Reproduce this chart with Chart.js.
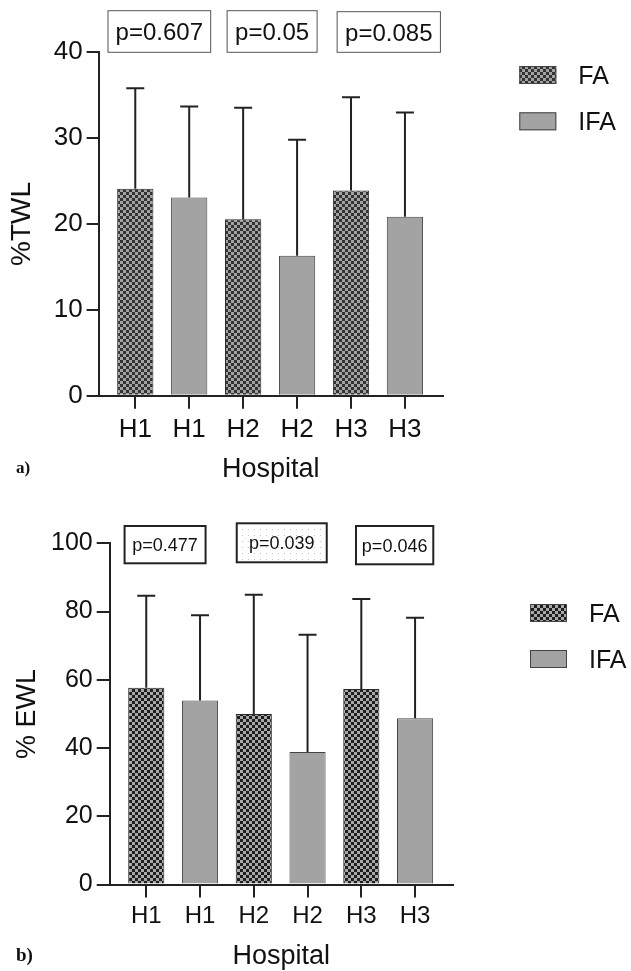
<!DOCTYPE html>
<html>
<head>
<meta charset="utf-8">
<script src="https://cdn.jsdelivr.net/npm/chart.js@4"></script>
<style>
  body { margin: 0; background: #fff; }
  #wrap { position: relative; width: 631px; height: 971px; background: #fff; }
  canvas { position: absolute; left: 0; }
</style>
</head>
<body>
<div id="wrap">
  <canvas id="twlChart" width="631" height="485" style="top:0"></canvas>
  <canvas id="ewlChart" width="631" height="486" style="top:485px"></canvas>
</div>
<script>
// Data
const barLabels = ['H1', 'H1', 'H2', 'H2', 'H3', 'H3'];
const barGroup = ['FA', 'IFA', 'FA', 'IFA', 'FA', 'IFA'];
const groups = ['FA', 'IFA'];

const twlMean = [24.1, 23.1, 20.55, 16.3, 23.9, 20.85];
const twlSD = [11.7, 10.6, 13.0, 13.5, 10.85, 12.15];
const twlTicks = [0, 10, 20, 30, 40];
const twlP = ['p=0.607', 'p=0.05', 'p=0.085'];

const ewlMean = [57.7, 53.9, 50.0, 38.8, 57.3, 48.7];
const ewlSD = [26.9, 25.0, 34.9, 34.4, 26.4, 29.5];
const ewlTicks = [0, 20, 40, 60, 80, 100];
const ewlP = ['p=0.477', 'p=0.039', 'p=0.046'];

const FONT = "'Liberation Sans', Arial, Helvetica, sans-serif";

// checkerboard pattern for FA bars
function checker(dark, light) {
    const c = document.createElement('canvas');
    c.width = 6; c.height = 6;
    const g = c.getContext('2d');
    g.fillStyle = light;
    g.fillRect(0, 0, 6, 6);
    g.fillStyle = dark;
    g.fillRect(0, 0, 3, 3);
    g.fillRect(3, 3, 3, 3);
    return g.createPattern(c, 'repeat');
}

function dots() {
    const c = document.createElement('canvas');
    c.width = 6; c.height = 6;
    const g = c.getContext('2d');
    g.fillStyle = '#fff';
    g.fillRect(0, 0, 6, 6);
    g.fillStyle = '#c8c8c8';
    g.fillRect(2, 2, 1, 1);
    return g.createPattern(c, 'repeat');
}

// error bars (upper only)
const errorBars = {
    id: 'errorBars',
    afterDatasetsDraw(chart) {
        const ctx = chart.ctx;
        const y = chart.scales.y;
        ctx.save();
        ctx.strokeStyle = '#222';
        ctx.lineWidth = 2;
        chart.data.datasets.forEach((ds, di) => {
            chart.getDatasetMeta(di).data.forEach((el, i) => {
                const d = ds.data[i];
                const top = y.getPixelForValue(d.y + d.sd);
                ctx.beginPath();
                ctx.moveTo(el.x, el.y);
                ctx.lineTo(el.x, top);
                ctx.moveTo(el.x - 9, top);
                ctx.lineTo(el.x + 9, top);
                ctx.stroke();
            });
        });
        ctx.restore();
    }
};

// p-value boxes + legend + panel letter
const extras = {
    id: 'extras',
    afterDraw(chart, args, o) {
        const ctx = chart.ctx;
        const x = chart.scales.x;
        const area = chart.chartArea;
        ctx.save();
        // p boxes
        o.pText.forEach((t, i) => {
            const cx = x.getPixelForValue(o.pAt[i]);
            const w = o.pW[i], h = o.pH[i];
            const top = area.top + o.pTop[i];
            if (o.pDotted && o.pDotted[i]) {
                ctx.fillStyle = dots();
                ctx.fillRect(cx - w / 2, top, w, h);
            }
            ctx.strokeStyle = o.pBorder;
            ctx.lineWidth = o.pLine;
            ctx.strokeRect(cx - w / 2, top, w, h);
            ctx.fillStyle = '#111';
            ctx.font = o.pFont + 'px ' + FONT;
            ctx.textAlign = 'center';
            ctx.textBaseline = 'alphabetic';
            ctx.fillText(t, cx, top + h / 2 + o.pFont * 0.36);
        });
        // legend
        chart.data.datasets.forEach((ds, i) => {
            const by = o.legY + i * o.legGap;
            ctx.fillStyle = ds.backgroundColor;
            ctx.fillRect(o.legX, by, 37, 18);
            ctx.strokeStyle = '#444';
            ctx.lineWidth = 1;
            ctx.strokeRect(o.legX + 0.5, by + 0.5, 36, 17);
            ctx.fillStyle = '#111';
            ctx.font = o.legFont + 'px ' + FONT;
            ctx.textAlign = 'left';
            ctx.fillText(ds.label, o.legX + 59, by + 9 + o.legFont * 0.36);
        });
        // panel letter
        ctx.font = 'bold ' + o.letterFont + "px 'Liberation Serif', 'DejaVu Serif', serif";
        ctx.fillStyle = '#111';
        ctx.textAlign = 'left';
        ctx.fillText(o.letter, 16, o.letterY);
        ctx.restore();
    }
};

function makeChart(id, mean, sd, yTicks, yTitle, cfg) {
    const datasets = groups.map(g => {
        const pts = [];
        barGroup.forEach((bg, i) => {
            if (bg === g) pts.push({ x: i, y: mean[i], sd: sd[i] });
        });
        return {
            label: g,
            data: pts,
            backgroundColor: g === 'FA' ? checker(cfg.dark, cfg.light) : '#a3a3a3',
            borderColor: g === 'FA' ? '#2a2a2a' : '#444',
            borderWidth: 1,
            borderSkipped: 'bottom',
            grouped: false,
            categoryPercentage: 1,
            barPercentage: 0.672
        };
    });

    return new Chart(document.getElementById(id), {
        type: 'bar',
        data: { datasets },
        options: {
            responsive: false,
            animation: false,
            layout: { padding: { left: 0, top: cfg.top, right: cfg.right, bottom: 0 } },
            plugins: {
                legend: { display: false },
                tooltip: { enabled: false },
                extras: cfg.extras
            },
            scales: {
                x: {
                    type: 'linear',
                    offset: false,
                    min: -0.68,
                    max: 5.7,
                    afterBuildTicks: s => { s.ticks = barLabels.map((_, i) => ({ value: i })); },
                    afterFit: s => { s.height = cfg.xHeight; },
                    ticks: {
                        callback: v => barLabels[v],
                        color: '#111',
                        font: { family: FONT, size: cfg.xTickFont },
                        padding: cfg.xTickPad,
                        maxRotation: 0,
                        autoSkip: false
                    },
                    grid: { offset: false, drawOnChartArea: false, tickLength: 13, color: '#222', lineWidth: 2 },
                    border: { display: true, color: '#222', width: 2 },
                    title: {
                        display: true,
                        text: 'Hospital',
                        color: '#111',
                        font: { family: FONT, size: 27, lineHeight: 1 },
                        padding: { top: 0, bottom: cfg.xTitlePad }
                    }
                },
                y: {
                    min: 0,
                    max: yTicks[yTicks.length - 1],
                    afterBuildTicks: s => { s.ticks = yTicks.map(v => ({ value: v })); },
                    afterFit: s => { s.width = cfg.yWidth; },
                    ticks: {
                        color: '#111',
                        font: { family: FONT, size: cfg.yTickFont },
                        padding: 4
                    },
                    grid: { drawOnChartArea: false, tickLength: cfg.yTick, color: '#222', lineWidth: 2 },
                    border: { display: true, color: '#222', width: 2 },
                    title: {
                        display: true,
                        text: yTitle,
                        color: '#111',
                        font: { family: FONT, size: cfg.yTitleFont, lineHeight: 1 },
                        padding: { top: cfg.yTitlePad, bottom: 0 }
                    }
                }
            }
        },
        plugins: [errorBars, extras]
    });
}

makeChart('twlChart', twlMean, twlSD, twlTicks, '%TWL', {
    dark: '#333', light: '#a2a2a2',
    top: 52.3, right: 188.3, xHeight: 89.3, yWidth: 98.6,
    xTickFont: 26, xTickPad: 5.5, xTitlePad: 1.5,
    yTickFont: 26, yTick: 12, yTitleFont: 28, yTitlePad: 8,
    extras: {
        pText: twlP, pAt: [0.446, 2.537, 4.70], pW: [102.7, 90, 103.3], pH: [41.6, 41.6, 40.6],
        pTop: [-41.6, -41.6, -40.6], pBorder: '#555', pLine: 1, pFont: 24,
        legX: 519.3, legY: 66, legGap: 46.3, legFont: 25,
        letter: 'a)', letterFont: 17, letterY: 473
    }
});

makeChart('ewlChart', ewlMean, ewlSD, ewlTicks, '% EWL', {
    dark: '#1e1e1e', light: '#a8a8a8',
    top: 58.3, right: 178.3, xHeight: 86.5, yWidth: 109.7,
    xTickFont: 24, xTickPad: 4.6, xTitlePad: 0.8,
    yTickFont: 25, yTick: 13, yTitleFont: 27, yTitlePad: 14.5,
    extras: {
        pText: ewlP, pAt: [0.35, 2.52, 4.62], pW: [81, 90, 77.3], pH: [37.3, 39, 38.3],
        pTop: [-17.3, -20, -17.3], pDotted: [false, true, false], pBorder: '#222', pLine: 2, pFont: 18,
        legX: 530, legY: 119, legGap: 46, legFont: 25,
        letter: 'b)', letterFont: 19, letterY: 476
    }
});
</script>
</body>
</html>
